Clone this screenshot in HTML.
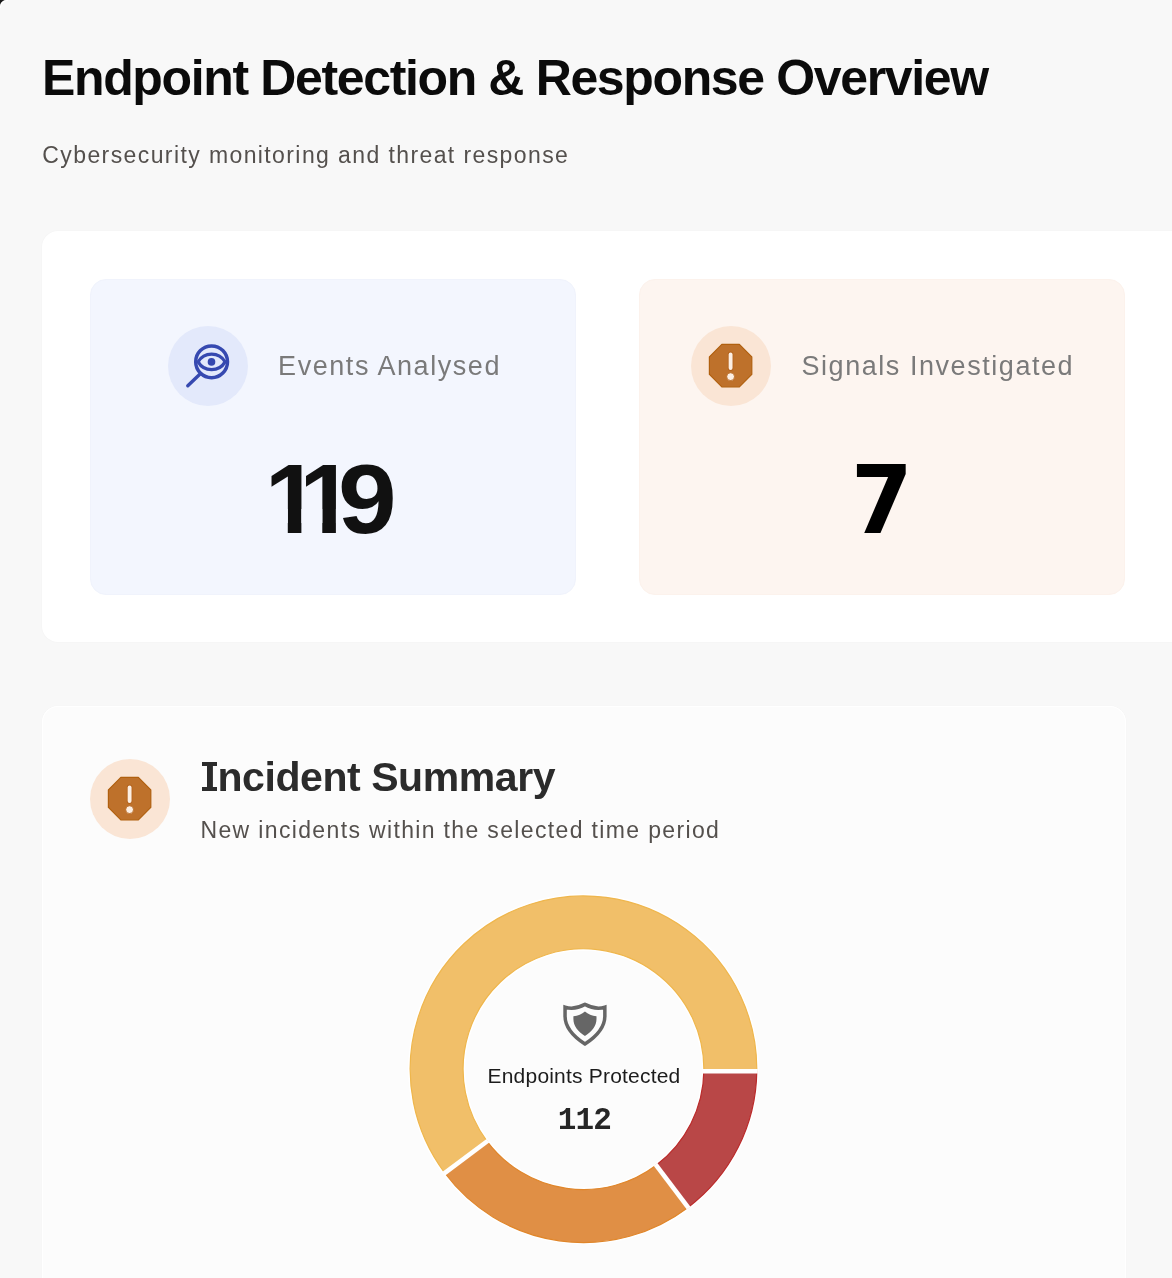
<!DOCTYPE html>
<html lang="en">
<head>
<meta charset="utf-8">
<title>Endpoint Detection &amp; Response Overview</title>
<style>
  html, body { margin: 0; padding: 0; }
  body {
    width: 1172px; height: 1278px; overflow: hidden; position: relative;
    background: #f8f8f8;
    font-family: "Liberation Sans", Arial, sans-serif;
  }
  .abs { position: absolute; }
  #corner { left: 0; top: 0; width: 8px; height: 8px; background: #1a1a1a; overflow: hidden; }
  #corner::after { content: ""; position: absolute; left: 0; top: 0; width: 14px; height: 14px; border-radius: 6.5px 0 0 0; background: #f8f8f8; box-shadow: inset 1px 1px 0 #fff; }
  h1 { position: absolute; margin: 0; left: 42px; top: 51.5px; font-size: 50px; line-height: 52px; font-weight: 700; color: #0b0b0b; white-space: nowrap; letter-spacing: -1.36px; }
  .sub { position: absolute; margin: 0; left: 42.3px; top: 141.5px; font-size: 23px; line-height: 26px; color: #54504d; white-space: nowrap; letter-spacing: 1.4px; }
  #top { left: 42px; top: 231px; width: 1190px; height: 411px; background: #fff; border-radius: 16px; box-shadow: 0 0 2px rgba(0,0,0,0.035); }
  .card { position: absolute; top: 47.8px; width: 485.7px; height: 316px; border-radius: 16px; box-sizing: border-box; }
  #c1 { left: 48px; background: #f3f6fe; border: 1px solid #f0f3fc; }
  #c2 { left: 596.9px; background: #fdf5f0; border: 1px solid #fcf2ec; }
  .hdr { position: absolute; top: 46px; height: 80px; display: flex; align-items: center; }
  .ico { width: 80px; height: 80px; border-radius: 50%; flex: none; position: relative; }
  .ico svg { position: absolute; left: 0; top: 0; }
  .lbl { position: relative; top: 1.2px; margin-left: 30.5px; font-size: 27px; color: #7a7a7a; white-space: nowrap; letter-spacing: 1.55px; }
  .dg { position: absolute; top: 449px; font-size: 99px; line-height: 100px; font-weight: 700; color: #111; white-space: nowrap; transform-origin: 0 0; }
  .one { clip-path: polygon(0 0, 100% 0, 100% 60px, 36.7px 60px, 36.7px 100%, 23.1px 100%, 23.1px 60px, 0 60px); }
  #bot { left: 42px; top: 706px; width: 1083.5px; height: 700px; background: #fcfcfc; border-radius: 16px; box-shadow: 0 0 1.5px rgba(0,0,0,0.03), inset 0 0 0 1px #fff; }
  .bt { position: absolute; left: 157.7px; top: 48.5px; font-size: 41px; line-height: 44px; font-weight: 700; color: #2b2b2b; white-space: nowrap; letter-spacing: -0.43px; }
  .sI { position: relative; display: inline-block; padding: 0 2.3px 0 4.5px; }
  .sI::before, .sI::after { content: ""; position: absolute; left: 2.4px; width: 14.6px; background: #2b2b2b; }
  .sI::before { top: 7.4px; height: 4.6px; }
  .sI::after { top: 32.1px; height: 4.0px; }
  .bs { position: absolute; left: 158.5px; top: 111px; font-size: 23px; line-height: 26px; color: #54504d; white-space: nowrap; letter-spacing: 1.35px; }
  .ctext { position: absolute; left: 0; width: 1172px; text-align: center; }
</style>
</head>
<body>
<div id="corner" class="abs"></div>
<h1>Endpoint Detection &amp; Response Overview</h1>
<p class="sub">Cybersecurity monitoring and threat response</p>

<div id="top" class="abs">
  <div id="c1" class="card">
    <div class="hdr" style="left:76.6px">
      <div class="ico" style="background:#e3e9fb">
        <svg width="80" height="80" viewBox="0 0 80 80" fill="none" stroke="#3649b0" stroke-linecap="round">
          <circle cx="43.6" cy="35.8" r="15.9" stroke-width="3.5"/>
          <path d="M30.1 35.9 A15.6 15.6 0 0 1 57.1 35.9 A15.6 15.6 0 0 1 30.1 35.9 Z" stroke-width="3.2" stroke-linejoin="miter"/>
          <circle cx="43.5" cy="35.9" r="3.8" fill="#3649b0" stroke="none"/>
          <path d="M31.8 48.2 L19.8 59.7" stroke-width="3.4"/>
        </svg>
      </div>
      <div class="lbl">Events Analysed</div>
    </div>
  </div>
  <div id="c2" class="card">
    <div class="hdr" style="left:51.1px">
      <div class="ico" style="background:#fae5d5">
        <svg width="80" height="80" viewBox="0 0 80 80">
          <polygon points="30.82,18.40 48.38,18.40 60.80,30.82 60.80,48.38 48.38,60.80 30.82,60.80 18.40,48.38 18.40,30.82" fill="#be712b" stroke="#b0600f" stroke-width="1.2" stroke-linejoin="round"/>
          <line x1="39.6" y1="28.4" x2="39.6" y2="42.1" stroke="#b4631c" stroke-width="5.6" stroke-linecap="round"/>
          <line x1="39.6" y1="28.4" x2="39.6" y2="42.1" stroke="#fcefe4" stroke-width="3.9" stroke-linecap="round"/>
          <circle cx="39.6" cy="50.65" r="3.9" fill="#fcefe4" stroke="#b4631c" stroke-width="0.8"/>
        </svg>
      </div>
      <div class="lbl">Signals Investigated</div>
    </div>
  </div>
</div>

<span class="dg one" style="left:264.7px">1</span>
<span class="dg one" style="left:299.2px">1</span>
<span class="dg" style="left:338.45px; transform: scaleX(1.065)">9</span>
<span class="dg" style="left:851.4px; top:451.3px; font-family:'DejaVu Sans', sans-serif; font-size:94px; transform: scaleX(0.944); color:#000">7</span>

<div id="bot" class="abs">
  <div class="ico abs" style="left:48px; top:52.5px; background:#fae5d5">
    <svg width="80" height="80" viewBox="0 0 80 80">
      <polygon points="30.82,18.40 48.38,18.40 60.80,30.82 60.80,48.38 48.38,60.80 30.82,60.80 18.40,48.38 18.40,30.82" fill="#be712b" stroke="#b0600f" stroke-width="1.2" stroke-linejoin="round"/>
      <line x1="39.6" y1="28.4" x2="39.6" y2="42.1" stroke="#b4631c" stroke-width="5.6" stroke-linecap="round"/>
      <line x1="39.6" y1="28.4" x2="39.6" y2="42.1" stroke="#fcefe4" stroke-width="3.9" stroke-linecap="round"/>
      <circle cx="39.6" cy="50.65" r="3.9" fill="#fcefe4" stroke="#b4631c" stroke-width="0.8"/>
    </svg>
  </div>
  <div class="bt"><span class="sI">I</span>ncident Summary</div>
  <div class="bs">New incidents within the selected time period</div>
</div>

<svg id="donut" class="abs" style="left:0;top:0" width="1172" height="1278" viewBox="0 0 1172 1278">
  <circle cx="583.5" cy="1069.2" r="146.85" fill="none" stroke="#fff" stroke-width="57"/>
  <g stroke-width="1.2" stroke-linejoin="miter">
    <path d="M756.79 1071.20 A173.3 173.3 0 0 1 688.04 1207.42 L656.13 1165.23 A120.4 120.4 0 0 0 703.89 1070.59 Z" fill="#b94747" stroke="#bb2a2a"/>
    <path d="M688.04 1207.42 A173.3 173.3 0 0 1 444.73 1173.01 L487.09 1141.32 A120.4 120.4 0 0 0 656.13 1165.23 Z" fill="#e08f45" stroke="#e0862a"/>
    <path d="M444.73 1173.01 A173.3 173.3 0 1 1 756.79 1071.20 L703.89 1070.59 A120.4 120.4 0 1 0 487.09 1141.32 Z" fill="#f1bf69" stroke="#efb64c"/>
  </g>
  <g stroke="#fff" stroke-width="4.6">
    <line x1="702.6" y1="1071.2" x2="757.8" y2="1071.2"/>
    <line x1="655.52" y1="1164.43" x2="688.64" y2="1208.22"/>
    <line x1="487.89" y1="1140.72" x2="443.93" y2="1173.61"/>
  </g>
  <g transform="translate(563.3 1002.5)">
    <path d="M1.75 4.7 C8.2 6.6 15.6 5.2 21.65 1.9 C27.7 5.2 35.1 6.6 41.55 4.7 L41.55 13.5 C41.55 24.5 32.5 34.5 21.65 41.5 C10.8 34.5 1.75 24.5 1.75 13.5 Z" fill="none" stroke="#666" stroke-width="3.5" stroke-linejoin="miter" stroke-miterlimit="6"/>
    <path d="M10.1 13.7 C14.6 13.5 18.6 11.6 21.65 9.1 C24.7 11.6 28.7 13.5 33.2 13.7 L33.2 16.5 C33.2 23.5 28.6 29 21.65 33.6 C14.7 29 10.1 23.5 10.1 16.5 Z" fill="#666"/>
  </g>
</svg>
<div class="abs ctext" style="top:1064px; left:0; width:1168px; font-size:21px; line-height:24px; color:#1c1c1c; letter-spacing:0.2px">Endpoints Protected</div>
<div class="abs ctext" style="top:1104.6px; left:0; width:1168.8px; font-family:'Liberation Mono', monospace; font-weight:700; font-size:31px; line-height:32px; letter-spacing:-0.8px; color:#262626">112</div>
</body>
</html>
